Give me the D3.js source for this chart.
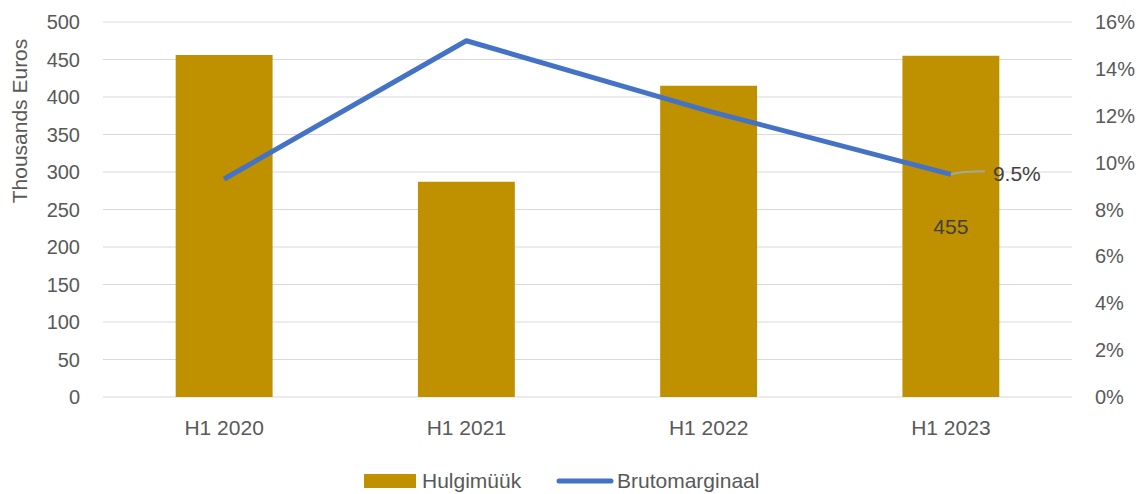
<!doctype html>
<html>
<head>
<meta charset="utf-8">
<title>Hulgimüük ja brutomarginaal</title>
<style>
  body { margin: 0; background: #fff; }
  text { font-family: "Liberation Sans", "DejaVu Sans", sans-serif; fill: #595959; }
</style>
</head>
<body>
<div id="chart"></div>
<script src="https://d3js.org/d3.v7.min.js"></script>
<script>
var categories = ["H1 2020", "H1 2021", "H1 2022", "H1 2023"];
var salesValues = [456, 287, 415, 455];
var marginValues = [0.093, 0.152, 0.122, 0.095];
var leftTicks = [0, 50, 100, 150, 200, 250, 300, 350, 400, 450, 500];
var rightTicks = [0, 0.02, 0.04, 0.06, 0.08, 0.10, 0.12, 0.14, 0.16];
var seriesNames = ["Hulgimüük", "Brutomarginaal"];

var w = 1143, h = 494;
// plot area edges (note: "top" is reserved on window)
var plotLeft = 103, plotRight = 1072, plotTop = 22, plotBottom = 397;

var svg = d3.select("#chart").append("svg").attr("width", w).attr("height", h);

var x = d3.scaleBand().domain(categories).range([plotLeft, plotRight]).paddingInner(0.6).paddingOuter(0.3);
var y = d3.scaleLinear().domain([0, 500]).range([plotBottom, plotTop]);
var y2 = d3.scaleLinear().domain([0, 0.16]).range([plotBottom, plotTop]);

// gridlines
svg.append("g").selectAll("line").data(leftTicks).enter().append("line")
  .attr("x1", plotLeft).attr("x2", plotRight)
  .attr("y1", function(d){ return y(d); }).attr("y2", function(d){ return y(d); })
  .attr("stroke", "#d9d9d9").attr("stroke-width", 1);

// left axis labels
svg.append("g").selectAll("text").data(leftTicks).enter().append("text")
  .attr("x", 80).attr("y", function(d){ return y(d); })
  .attr("dy", "0.35em").attr("text-anchor", "end")
  .attr("font-size", 20).text(function(d){ return d; });

// right axis labels
svg.append("g").selectAll("text").data(rightTicks).enter().append("text")
  .attr("x", 1095).attr("y", function(d){ return y2(d); })
  .attr("dy", "0.35em").attr("text-anchor", "start")
  .attr("font-size", 20).text(function(d){ return Math.round(d * 100) + "%"; });

// axis title
svg.append("text")
  .attr("transform", "translate(27,121) rotate(-90)")
  .attr("text-anchor", "middle").attr("font-size", 21)
  .text("Thousands Euros");

// bars
svg.append("g").selectAll("rect").data(salesValues).enter().append("rect")
  .attr("x", function(d, i){ return x(categories[i]); })
  .attr("width", x.bandwidth())
  .attr("y", function(d){ return y(d); })
  .attr("height", function(d){ return plotBottom - y(d); })
  .attr("fill", "#bf9000");

// category labels
svg.append("g").selectAll("text").data(categories).enter().append("text")
  .attr("x", function(d){ return x(d) + x.bandwidth() / 2; })
  .attr("y", 435).attr("text-anchor", "middle")
  .attr("font-size", 21).text(function(d){ return d; });

// line
var cx = function(i){ return x(categories[i]) + x.bandwidth() / 2; };
var line = d3.line().x(function(d, i){ return cx(i); }).y(function(d){ return y2(d); });
svg.append("path").datum(marginValues)
  .attr("d", line).attr("fill", "none")
  .attr("stroke", "#4472c4").attr("stroke-width", 5).attr("stroke-linejoin", "round");

// data labels on last point
var last = marginValues.length - 1;
var lx = cx(last), ly = y2(marginValues[last]);
svg.append("path")
  .attr("d", "M" + lx + "," + ly + " Q" + (lx + 10) + "," + (ly - 3) + " " + (lx + 34) + "," + (ly - 3))
  .attr("fill", "none").attr("stroke", "#a6a6a6").attr("stroke-width", 2);
svg.append("text").attr("x", lx + 42).attr("y", ly - 1).attr("dy", "0.35em")
  .attr("font-size", 21).style("fill", "#404040")
  .text((marginValues[last] * 100).toFixed(1) + "%");
svg.append("text").attr("x", lx).attr("y", 227).attr("dy", "0.35em")
  .attr("text-anchor", "middle").attr("font-size", 21).style("fill", "#404040")
  .text(salesValues[last]);

// legend
var lg = svg.append("g");
lg.append("rect").attr("x", 364).attr("y", 474).attr("width", 52).attr("height", 14).attr("fill", "#bf9000");
lg.append("text").attr("x", 422).attr("y", 481).attr("dy", "0.35em").attr("font-size", 21).text(seriesNames[0]);
lg.append("line").attr("x1", 559).attr("x2", 611).attr("y1", 481).attr("y2", 481)
  .attr("stroke", "#4472c4").attr("stroke-width", 5).attr("stroke-linecap", "round");
lg.append("text").attr("x", 617).attr("y", 481).attr("dy", "0.35em").attr("font-size", 21).text(seriesNames[1]);
</script>
</body>
</html>
